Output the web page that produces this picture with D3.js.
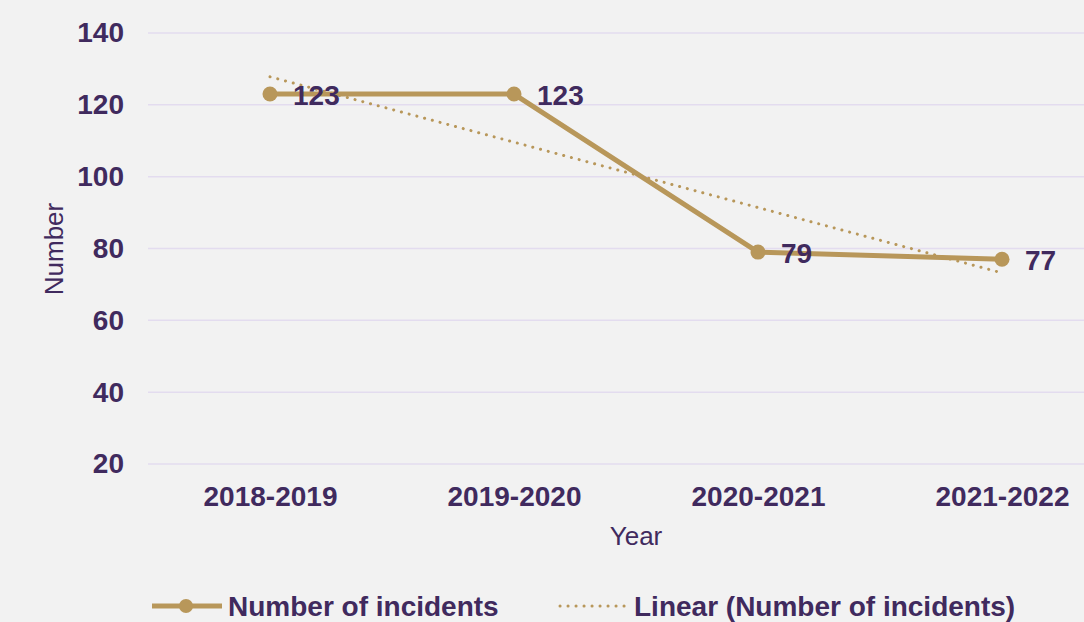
<!DOCTYPE html>
<html>
<head>
<meta charset="utf-8">
<script src="https://cdn.jsdelivr.net/npm/d3@7"></script>
<style>
  html, body { margin: 0; padding: 0; background: #f2f2f2; }
  svg { display: block; font-family: "Liberation Sans", Arial, sans-serif; }
</style>
</head>
<body>
<div class="chart"></div>
<script>
"use strict";

const years = ["2018-2019", "2019-2020", "2020-2021", "2021-2022"];
const incidents = [123, 123, 79, 77];
// trend line (start / end at first and last year)
const trend = [127.8, 73.2];
const yTicks = [20, 40, 60, 80, 100, 120, 140];

const width = 1084, height = 622;
const textColor = "#402a5e";
const lineColor = "#b8975a";
const gridColor = "#e3dcef";
const font = "Liberation Sans, Arial, sans-serif";

const svg = d3.select(".chart").append("svg")
    .attr("width", width)
    .attr("height", height);

svg.append("rect").attr("width", width).attr("height", height).attr("fill", "#f2f2f2");

const x = d3.scalePoint().domain(years).range([148, 1124]).padding(0.5);
const y = d3.scaleLinear().domain([20, 140]).range([464, 33]);

// gridlines
svg.append("g")
    .selectAll("line")
    .data(yTicks)
    .join("line")
    .attr("x1", 148).attr("x2", width)
    .attr("y1", d => y(d)).attr("y2", d => y(d))
    .attr("stroke", gridColor)
    .attr("stroke-width", 1.5);

// y axis labels
const yAxis = svg.append("g")
    .attr("transform", "translate(124,0)")
    .call(d3.axisLeft(y).tickValues(yTicks).tickSize(0).tickPadding(0));
yAxis.select(".domain").remove();
yAxis.selectAll("text")
    .attr("fill", textColor)
    .attr("font-size", 28)
    .attr("font-weight", "bold")
    .attr("font-family", font);

// x axis labels
const xAxis = svg.append("g")
    .attr("transform", "translate(0,506)")
    .call(d3.axisBottom(x).tickSize(0).tickPadding(0));
xAxis.select(".domain").remove();
xAxis.selectAll("text")
    .attr("dy", 0)
    .attr("fill", textColor)
    .attr("font-size", 28)
    .attr("font-weight", "bold")
    .attr("font-family", font);

// axis titles
svg.append("text")
    .attr("x", 636).attr("y", 545)
    .attr("text-anchor", "middle")
    .attr("fill", textColor)
    .attr("font-size", 26)
    .text("Year");

svg.append("text")
    .attr("transform", "translate(63,249) rotate(-90)")
    .attr("text-anchor", "middle")
    .attr("fill", textColor)
    .attr("font-size", 26)
    .text("Number");

// trend line
const trendYears = [years[0], years[years.length - 1]];
svg.append("path")
    .attr("fill", "none")
    .attr("stroke", lineColor)
    .attr("stroke-width", 3)
    .attr("stroke-linecap", "round")
    .attr("stroke-dasharray", "0.1 7.9")
    .attr("d", d3.line().x((d, i) => x(trendYears[i])).y(d => y(d))(trend));

// main line
const line = d3.line()
    .x((d, i) => x(years[i]))
    .y(d => y(d));

svg.append("path")
    .attr("fill", "none")
    .attr("stroke", lineColor)
    .attr("stroke-width", 5)
    .attr("stroke-linejoin", "round")
    .attr("d", line(incidents));

svg.append("g")
    .selectAll("circle")
    .data(incidents)
    .join("circle")
    .attr("cx", (d, i) => x(years[i]))
    .attr("cy", d => y(d))
    .attr("r", 7.5)
    .attr("fill", lineColor);

// value labels
svg.append("g")
    .selectAll("text")
    .data(incidents)
    .join("text")
    .attr("x", (d, i) => x(years[i]) + 23)
    .attr("y", d => y(d) + 11)
    .attr("fill", textColor)
    .attr("font-size", 28)
    .attr("font-weight", "bold")
    .text(d => d);

// legend
const legend = svg.append("g").attr("transform", "translate(0,606)");
legend.append("line")
    .attr("x1", 152).attr("x2", 222)
    .attr("stroke", lineColor).attr("stroke-width", 5);
legend.append("circle")
    .attr("cx", 186).attr("r", 7)
    .attr("fill", lineColor);
legend.append("text")
    .attr("x", 228).attr("y", 10)
    .attr("fill", textColor)
    .attr("font-size", 28)
    .attr("font-weight", "bold")
    .text("Number of incidents");

legend.append("line")
    .attr("x1", 560).attr("x2", 628)
    .attr("stroke", lineColor).attr("stroke-width", 3)
    .attr("stroke-linecap", "round")
    .attr("stroke-dasharray", "0.1 7.9");
legend.append("text")
    .attr("x", 634).attr("y", 10)
    .attr("fill", textColor)
    .attr("font-size", 28)
    .attr("font-weight", "bold")
    .text("Linear (Number of incidents)");
</script>
</body>
</html>
